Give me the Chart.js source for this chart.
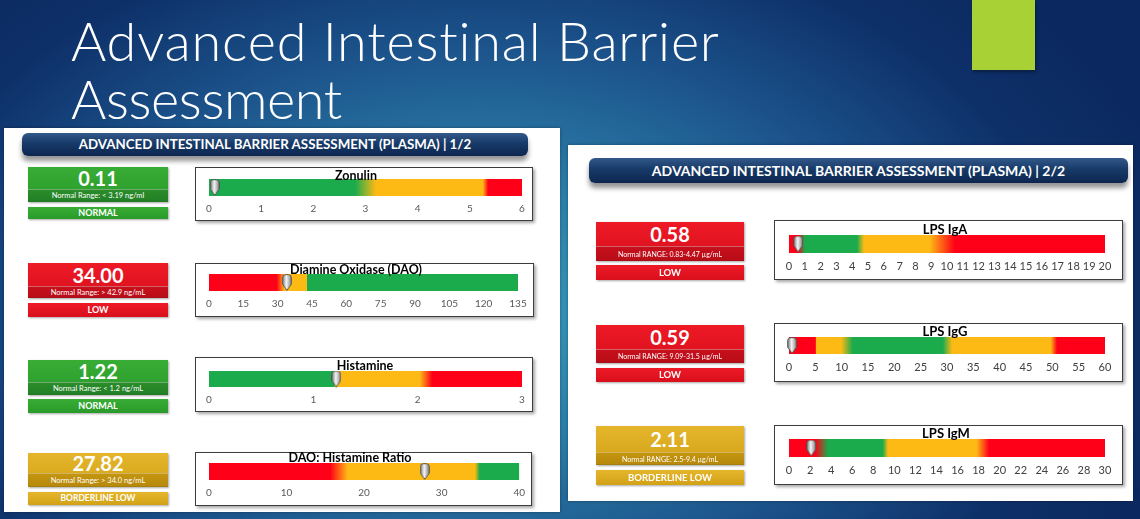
<!DOCTYPE html>
<html><head><meta charset="utf-8">
<script src="https://cdn.jsdelivr.net/npm/chart.js@4.4.1/dist/chart.umd.min.js"></script>
<style>
html,body{margin:0;padding:0;width:1140px;height:519px;overflow:hidden;}
body{position:relative;font-family:Lato,"Open Sans",sans-serif;
 background:#0c2a62;
 background-image:radial-gradient(ellipse 720px 470px at 42% 60%, #3a9dbd 0%, #2b7ea8 28%, #1b5189 58%, #0e3069 82%, #0b2960 100%);}
#title{position:absolute;left:71px;top:12px;color:#fff;font-family:Lato;font-weight:300;font-size:54px;line-height:58px;white-space:nowrap;}
#title .l1{letter-spacing:0.8px;} #title .l2{letter-spacing:-0.4px;}
#accent{position:absolute;left:972px;top:0;width:63px;height:70px;background:#a8d136;box-shadow:1px 2px 3px rgba(0,0,0,.35);}
.panel{position:absolute;background:#fff;box-shadow:0 0 3px rgba(0,0,0,.35);}
.hdr{position:absolute;border-radius:6px;color:#fff;font-weight:700;text-align:center;
 background:linear-gradient(#33598a,#173a68 45%,#0d2650);box-shadow:0 5px 5px rgba(0,0,0,.42);white-space:nowrap;}
.vbox,.sbox{position:absolute;color:#fff;text-align:center;box-shadow:1px 1px 2px rgba(0,0,0,.35);white-space:nowrap;overflow:hidden;}
.vbox .num{position:absolute;left:0;right:0;top:0;font-weight:700;font-size:20px;}
.vbox .band{position:absolute;left:0;right:0;bottom:0;border-top:1px solid rgba(255,255,255,.35);border-bottom:1px solid rgba(0,0,0,.15);box-sizing:border-box;}
.sbox{font-weight:700;}
.green{background:linear-gradient(#38ad35,#2a9a2a);} .green .band{background:linear-gradient(#2a8d29,#237f27);}
.red{background:linear-gradient(#ee1a26,#d90f1c);} .red .band{background:linear-gradient(#c7101c,#b80d18);}
.gold{background:linear-gradient(#e5b62c,#d2a116);} .gold .band{background:linear-gradient(#c4950f,#b7890c);}
.cbox{position:absolute;background:#fff;border:1.5px solid #3d3d3d;box-sizing:border-box;box-shadow:2px 2px 3px rgba(0,0,0,.35);}
.ctitle{position:absolute;font-weight:700;color:#000;white-space:nowrap;transform:translate(-50%,-50%);}
canvas{position:absolute;}
</style></head>
<body>
<div id="title"><span class="l1">Advanced Intestinal Barrier</span><br><span class="l2">Assessment</span></div>
<div id="accent"></div>
<div class="panel" style="left:4px;top:128px;width:556px;height:384px;"></div>
<div class="panel" style="left:568px;top:145px;width:565px;height:356px;"></div>
<div class="hdr" style="left:22px;top:133px;width:506px;height:23px;line-height:23px;font-size:13.3px;">ADVANCED INTESTINAL BARRIER ASSESSMENT (PLASMA) | 1/2</div>
<div class="hdr" style="left:589px;top:158px;width:539px;height:25px;line-height:25px;font-size:14px;">ADVANCED INTESTINAL BARRIER ASSESSMENT (PLASMA) | 2/2</div>
<div id="gauges"></div>
<script>
// ---- data ----
const gaugeNames = ['Zonulin','Diamine Oxidase (DAO)','Histamine','DAO: Histamine Ratio','LPS IgA','LPS IgG','LPS IgM'];
const resultValues = [0.11, 34.00, 1.22, 27.82, 0.58, 0.59, 2.11];
const resultLabels = ['0.11','34.00','1.22','27.82','0.58','0.59','2.11'];
const normalRanges = ['Normal Range: < 3.19 ng/ml','Normal Range: > 42.9 ng/mL','Normal Range: < 1.2 ng/mL','Normal Range: > 34.0 ng/mL',
  'Normal RANGE: 0.83-4.47 \u00b5g/mL','Normal RANGE: 9.09-31.5 \u00b5g/mL','Normal RANGE: 2.5-9.4 \u00b5g/mL'];
const statusLabels = ['NORMAL','LOW','NORMAL','BORDERLINE LOW','LOW','LOW','BORDERLINE LOW'];
const axisMax = [6, 135, 3, 40, 20, 60, 30];
const axisStep = [1, 15, 1, 10, 1, 5, 2];
// colour zones: [value, zone]  (G = green, Y = yellow, R = red)
const zonulinZones = [[0,'G'],[2.8,'G'],[3.2,'Y'],[5.25,'Y'],[5.35,'R'],[6,'R']];
const daoZones = [[0,'R'],[29.5,'R'],[33,'Y'],[42.6,'Y'],[42.9,'G'],[135,'G']];
const histamineZones = [[0,'G'],[1.2,'G'],[1.21,'Y'],[2.02,'Y'],[2.14,'R'],[3,'R']];
const ratioZones = [[0,'R'],[15.6,'R'],[17.9,'Y'],[34.3,'Y'],[34.9,'G'],[40,'G']];
const lpsIgaZones = [[0,'R'],[0.6,'R'],[1.0,'G'],[4.3,'G'],[4.75,'Y'],[8.9,'Y'],[10.5,'R'],[20,'R']];
const lpsIggZones = [[0,'R'],[5.0,'R'],[5.2,'Y'],[9.9,'Y'],[12.1,'G'],[29.2,'G'],[31,'Y'],[49.7,'Y'],[50.9,'R'],[60,'R']];
const lpsIgmZones = [[0,'R'],[2.5,'R'],[3.7,'G'],[8.9,'G'],[9.4,'Y'],[17.8,'Y'],[19,'R'],[30,'R']];
const zoneSets = [zonulinZones, daoZones, histamineZones, ratioZones, lpsIgaZones, lpsIggZones, lpsIgmZones];

// ---- styles / layout ----
const ZONE_COLORS = {G:'#1bab4c', Y:'#fdba15', R:'#fe0017'};
const BOX_CLASS = {'NORMAL':'green','LOW':'red','BORDERLINE LOW':'gold'};
const L = [
 {vx:28,vw:140,vt:167,bt:189,vb:202,st:207,sb:219,cx:195,cw:338,ct:167,cb:221,bl:209,br:522,bt2:179,bb:196,tx:356,ty:174.5,fs:10,tc:'#595959',ts:12.5,rs:7.5,ss:9},
 {vx:28,vw:140,vt:263,bt:286,vb:298,st:303,sb:317,cx:195,cw:339,ct:263,cb:317,bl:209,br:518,bt2:274,bb:291,tx:356,ty:269,fs:10,tc:'#595959',ts:12.5,rs:7.5,ss:9},
 {vx:28,vw:140,vt:360,bt:382,vb:395,st:399,sb:413,cx:195,cw:338,ct:357,cb:412,bl:209,br:522,bt2:371,bb:387,tx:365,ty:365,fs:10,tc:'#595959',ts:12.5,rs:7.5,ss:9},
 {vx:28,vw:140,vt:453,bt:473,vb:487,st:492,sb:505,cx:195,cw:337,ct:452,cb:506,bl:209,br:520,bt2:463,bb:480,tx:350,ty:457,fs:10,tc:'#595959',ts:12.5,rs:7.5,ss:8.5},
 {vx:596,vw:148,vt:222,bt:246,vb:261,st:265,sb:280,cx:774,cw:349,ct:220,cb:280,bl:789,br:1105,bt2:235,bb:253,tx:945,ty:229,fs:11,tc:'#404040',ts:13,rs:7,ss:9.5},
 {vx:596,vw:148,vt:325,bt:349,vb:363,st:368,sb:382,cx:774,cw:349,ct:323,cb:382,bl:789,br:1105,bt2:337,bb:354,tx:945,ty:331,fs:11,tc:'#404040',ts:13,rs:7,ss:9.5},
 {vx:596,vw:148,vt:426,bt:452,vb:465,st:470,sb:485,cx:774,cw:349,ct:425,cb:485,bl:789,br:1105,bt2:439,bb:457,tx:946,ty:433,fs:11,tc:'#404040',ts:13,rs:7,ss:9.5}
];

Chart.defaults.font.family = 'Lato';

function makeMarker(){
  const c = document.createElement('canvas'); const w = 10, h = 17; c.width = w; c.height = h;
  const g = c.getContext('2d');
  const grad = g.createLinearGradient(0,0,w,0);
  grad.addColorStop(0,'#6a6a6a'); grad.addColorStop(0.45,'#f4f4f4'); grad.addColorStop(1,'#7a7a7a');
  g.beginPath();
  g.moveTo(0.7,3.5); g.quadraticCurveTo(0.7,0.7,3.5,0.7); g.lineTo(w-3.5,0.7); g.quadraticCurveTo(w-0.7,0.7,w-0.7,3.5);
  g.lineTo(w-0.7,h*0.6); g.lineTo(w/2,h-0.6); g.lineTo(0.7,h*0.6); g.closePath();
  g.fillStyle = grad; g.fill(); g.strokeStyle = '#4a4a4a'; g.lineWidth = 0.9; g.stroke();
  return c;
}
const marker = makeMarker();

const root = document.getElementById('gauges');
function el(tag, cls, style, text){ const d=document.createElement(tag); if(cls) d.className=cls; if(style) d.style.cssText=style; if(text!==undefined) d.textContent=text; root.appendChild(d); return d; }

gaugeNames.forEach((name, i) => {
  const p = L[i], cls = BOX_CLASS[statusLabels[i]];
  // value box
  const vb = el('div','vbox '+cls,`left:${p.vx}px;top:${p.vt}px;width:${p.vw}px;height:${p.vb-p.vt}px;`);
  const num = document.createElement('div'); num.className='num'; num.textContent=resultLabels[i];
  num.style.cssText = `height:${p.bt-p.vt}px;line-height:${p.bt-p.vt+1}px;`; vb.appendChild(num);
  const band = document.createElement('div'); band.className='band'; band.textContent=normalRanges[i];
  band.style.cssText = `height:${p.vb-p.bt}px;line-height:${p.vb-p.bt-1}px;font-size:${p.rs}px;`; vb.appendChild(band);
  el('div','sbox '+cls,`left:${p.vx}px;top:${p.st}px;width:${p.vw}px;height:${p.sb-p.st}px;line-height:${p.sb-p.st}px;font-size:${p.ss}px;`, statusLabels[i]);
  // chart box
  const W = p.cw, H = p.cb - p.ct;
  el('div','cbox',`left:${p.cx}px;top:${p.ct}px;width:${W}px;height:${H}px;`);
  const cv = el('canvas',null,`left:${p.cx}px;top:${p.ct}px;width:${W}px;height:${H}px;`);
  cv.width = W; cv.height = H;
  el('div','ctitle',`left:${p.tx}px;top:${p.ty}px;font-size:${p.ts}px;`, name);
  const axisH = p.cb - p.bb - 3;
  const zones = zoneSets[i], max = axisMax[i];
  new Chart(cv, {
    type:'bar',
    data:{labels:['v'], datasets:[
      {type:'scatter', data:[{x:resultValues[i], y:'v'}], pointStyle:marker, pointRadius:8, clip:false, order:0},
      {type:'bar', data:[[0,max]], barPercentage:1, categoryPercentage:1, borderWidth:0, order:1,
        backgroundColor:(ctx)=>{
          const ch = ctx.chart; if(!ch.chartArea) return ZONE_COLORS[zones[0][1]];
          const xs = ch.scales.x, x0 = xs.getPixelForValue(0), x1 = xs.getPixelForValue(max);
          const g = ch.ctx.createLinearGradient(x0,0,x1,0);
          zones.forEach(([v,z]) => g.addColorStop(Math.min(1,Math.max(0,v/max)), ZONE_COLORS[z]));
          return g;
        }}
    ]},
    options:{
      indexAxis:'y', responsive:false, animation:false, events:[],
      layout:{padding:{top:p.bt2-p.ct, left:p.bl-p.cx, right:p.cx+W-p.br, bottom:3}},
      plugins:{legend:{display:false}, tooltip:{enabled:false}},
      scales:{
        x:{type:'linear', min:0, max:max, offset:false,
           grid:{display:false, drawTicks:false}, border:{display:false},
           ticks:{stepSize:axisStep[i], autoSkip:false, maxRotation:0, padding:7, color:p.tc, font:{size:p.fs}},
           afterFit:(s)=>{ s.height = axisH; }},
        y:{type:'category', display:false, offset:true}
      }
    }
  });
});
</script>
</body></html>
